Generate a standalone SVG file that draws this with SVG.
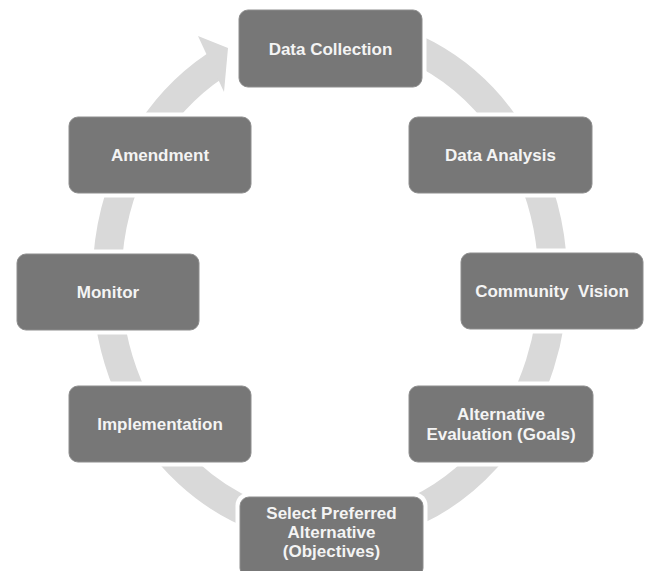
<svg xmlns="http://www.w3.org/2000/svg" width="651" height="571" viewBox="0 0 651 571">
<style>
.gap{fill:#ffffff}
.box{fill:#777777;stroke:#8e8e8e;stroke-width:1}
.lbl{font-family:"Liberation Sans",Arial,sans-serif;font-weight:bold;font-size:17px;fill:#f4f4f4;text-anchor:middle}
.ring{fill:none;stroke:#d9d9d9;stroke-width:29;stroke-linecap:butt}
</style>
<rect width="651" height="571" fill="#ffffff"/>
<g id="connectors">
<path class="ring" d="M 330 30 A 223 250 0 1 1 215.1 65.7"/>
<polygon points="198,36 228,48 224,92" fill="#d9d9d9"/>
</g>
<g id="n1">
<rect class="gap" x="234.5" y="5.5" width="192" height="86" rx="13"/>
<rect class="box" x="239" y="10" width="183" height="77" rx="9"/>
<text class="lbl" x="330.5" y="54.5">Data Collection</text>
</g>
<g id="n2">
<rect class="gap" x="404.5" y="112.5" width="192" height="85" rx="13"/>
<rect class="box" x="409" y="117" width="183" height="76" rx="9"/>
<text class="lbl" x="500.5" y="161">Data Analysis</text>
</g>
<g id="n3">
<rect class="gap" x="456.5" y="248.5" width="191" height="85" rx="13"/>
<rect class="box" x="461" y="253" width="182" height="76" rx="9"/>
<text class="lbl" x="552" y="297" xml:space="preserve">Community  Vision</text>
</g>
<g id="n4">
<rect class="gap" x="404.5" y="381.5" width="193" height="85" rx="13"/>
<rect class="box" x="409" y="386" width="184" height="76" rx="9"/>
<text class="lbl" x="501" y="420">Alternative</text>
<text class="lbl" x="501" y="440">Evaluation (Goals)</text>
</g>
<g id="n5">
<rect class="gap" x="235.5" y="492.5" width="192" height="90" rx="13"/>
<rect class="box" x="240" y="497" width="183" height="80" rx="9"/>
<text class="lbl" x="331.5" y="519">Select Preferred</text>
<text class="lbl" x="331.5" y="538">Alternative</text>
<text class="lbl" x="331.5" y="557">(Objectives)</text>
</g>
<g id="n6">
<rect class="gap" x="64.5" y="381.5" width="191" height="85" rx="13"/>
<rect class="box" x="69" y="386" width="182" height="76" rx="9"/>
<text class="lbl" x="160" y="430">Implementation</text>
</g>
<g id="n7">
<rect class="gap" x="12.5" y="249.5" width="191" height="85" rx="13"/>
<rect class="box" x="17" y="254" width="182" height="76" rx="9"/>
<text class="lbl" x="108" y="298">Monitor</text>
</g>
<g id="n8">
<rect class="gap" x="64.5" y="112.5" width="191" height="85" rx="13"/>
<rect class="box" x="69" y="117" width="182" height="76" rx="9"/>
<text class="lbl" x="160" y="161">Amendment</text>
</g>
</svg>
